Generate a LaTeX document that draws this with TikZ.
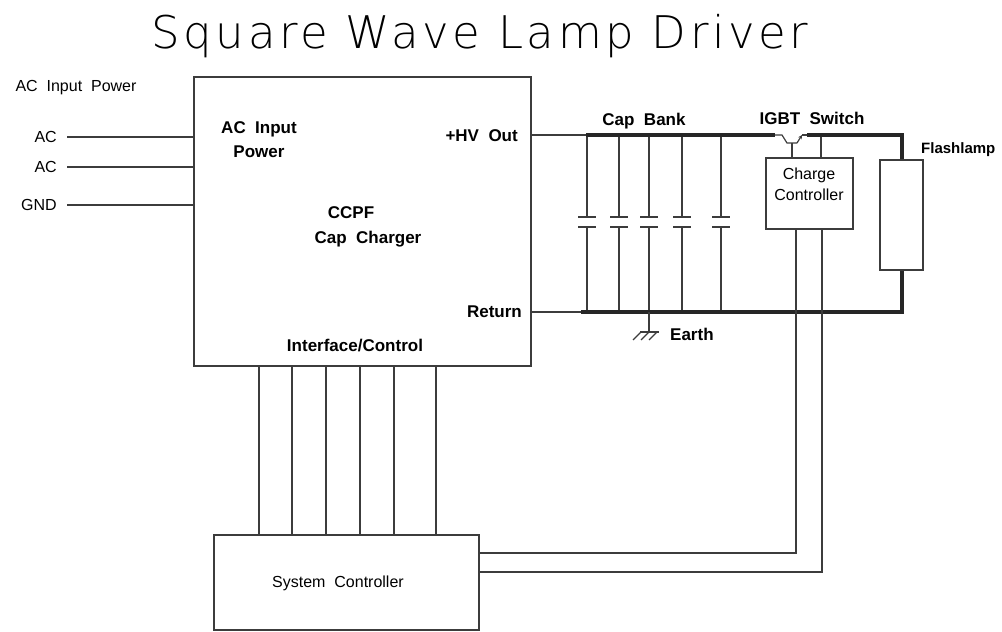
\documentclass[tikz,border=0pt]{standalone}
\usepackage{fontspec}
\setmainfont{Liberation Sans}
\newfontfamily\titlefont{DejaVu Sans ExtraLight}[LetterSpace=8]
\usetikzlibrary{positioning,arrows.meta}
\definecolor{wirecol}{HTML}{3C3C3C}
\tikzset{
  box/.style={draw=wirecol, line width=1.2pt, inner sep=0pt},
  title/.style={font=\titlefont\fontsize{45}{50}\selectfont, inner sep=0pt, anchor=base},
  lbl/.style={font=\bfseries\fontsize{17}{20}\selectfont, inner sep=0pt, anchor=base},
  txt/.style={font=\fontsize{16}{19}\selectfont, inner sep=0pt, anchor=base},
  wire/.style={draw=wirecol, line width=1.2pt},
  bus/.style={draw=black!85, line width=4pt},
  plate/.style={draw=wirecol, line width=1.6pt},
}
\begin{document}
\begin{tikzpicture}[x=1pt, y=-1pt]
\useasboundingbox (0,0) rectangle (1002,632);
%Nodes
\node[title] (title) at (480,48) {Square Wave Lamp Driver};
\node[box, minimum width=337pt, minimum height=289pt] (charger) at (362.5,221.5) {};
\node[box, minimum width=265pt, minimum height=95pt] (sysctrl) at (346.5,582.5) {};
\node[box, minimum width=87pt, minimum height=71pt] (chgctl) at (809.5,193.5) {};
\node[box, minimum width=43pt, minimum height=110pt] (lamp) at (901.5,215) {};

\node[txt] (acpower) at (76,91) {AC\ \ Input\ \ Power};
\node[txt, anchor=base east] (acin1) at (57,142) {AC};
\node[txt, anchor=base east] (acin2) at (57,172) {AC};
\node[txt, anchor=base east] (gnd) at (57,210) {GND};

\node[lbl, align=center] (acinlbl) at (259,157) {AC\ \ Input\\[4pt]Power};
\node[lbl] (ccpf) at (351,218) {CCPF};
\node[lbl] (capchg) at (368,243) {Cap\ \ Charger};
\node[lbl, anchor=base east] (hvout) at (518,141) {+HV\ \ Out};
\node[lbl, anchor=base east] (ret) at (522,317) {Return};
\node[lbl] (iface) at (355,351) {Interface/Control};

\node[lbl] (capbank) at (644,125) {Cap\ \ Bank};
\node[lbl] (igbt) at (812,124) {IGBT\ \ Switch};
\node[lbl, anchor=base west, font=\bfseries\fontsize{15}{18}\selectfont] (flash) at (921,153) {Flashlamp};
\node[lbl, anchor=base west] (earth) at (670,340) {Earth};
\node[txt] (sysname) at (338,587) {System\ \ Controller};
\node[txt] (chgname) at (809,179) {Charge};
\node[txt] (ctlname) at (809,200) {Controller};

%Coordinates
\coordinate (hvbus) at (586,135);
\coordinate (retbus) at (581,312);
\coordinate (igbtC) at (775,135);
\coordinate (igbtB) at (792,143);
\coordinate (igbtE) at (807,135);
\coordinate (sense) at (821,135);
\coordinate (ctlA) at (796,553);
\coordinate (ctlB) at (822,572);
\coordinate (gndpt) at (649,332);

%Lines
\foreach \n in {acin1,acin2,gnd}
  \draw[wire] ([xshift=10pt, yshift=5pt]\n.base east) -- ([yshift=5pt]\n.base east -| charger.west);
\draw[wire] (hvbus -| charger.east) -- (hvbus);
\draw[wire] (retbus -| charger.east) -- (retbus);
\foreach \x in {587,619,649,682,721} {
  \draw[wire] (\x,135) -- (\x,217);
  \draw[wire] (\x,227) -- (\x,312);
  \draw[plate] (\x-9,217) -- (\x+9,217);
  \draw[plate] (\x-9,227) -- (\x+9,227);
}
\draw[bus] (hvbus) -- (igbtC);
\draw[wire] (igbtC) -- ++(7,0) -- ++(5,8) -- ++(10,0);
\draw[wire, -{Stealth[length=4pt,width=4pt]}] (797,143) -- (802,135);
\draw[wire] (802,135) -- (igbtE);
\draw[wire] (igbtB) -- (igbtB |- chgctl.north);
\draw[wire] (sense) -- (sense |- chgctl.north);
\draw[bus, line join=miter] (igbtE) -- (igbtE -| lamp.north) -- (lamp.north);
\draw[bus, line join=miter] (retbus) -- (retbus -| lamp.south) -- (lamp.south);

\draw[wire] (gndpt |- retbus) -- (gndpt);
\draw[wire] ([xshift=-9pt]gndpt) -- ([xshift=10pt]gndpt);
\foreach \dx in {-8,0,8}
  \draw[wire] ([xshift=\dx pt]gndpt) -- ++(-8,8);

\foreach \x in {259,292,326,360,394,436}
  \draw[wire] (charger.south -| \x,0) -- (sysctrl.north -| \x,0);
\draw[wire] (ctlA |- chgctl.south) -- (ctlA) -- (ctlA -| sysctrl.east);
\draw[wire] (ctlB |- chgctl.south) -- (ctlB) -- (ctlB -| sysctrl.east);
\end{tikzpicture}
\end{document}
